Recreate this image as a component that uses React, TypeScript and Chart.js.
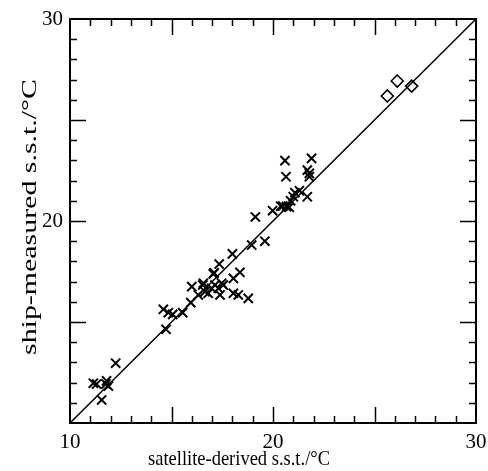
import React, { useEffect, useRef } from "react";
import { Chart, registerables } from "chart.js";

Chart.register(...registerables);

// Satellite-derived s.s.t. (x) vs ship-measured s.s.t. (y), crosses
const crossSat = [
  11.15, 11.31, 11.77, 11.89, 11.8, 11.56, 12.25,
  14.6, 14.84, 15.06, 15.55, 14.73, 15.95, 16.0, 16.32, 16.54, 16.65, 16.81, 16.98,
  17.14, 17.31, 17.39, 17.06, 17.55, 17.1, 17.35, 18.0, 18.05, 18.37, 18.05, 18.29,
  18.78, 18.95, 19.6, 16.57, 17.47,
  19.13, 19.98, 20.38, 20.48, 20.67, 20.8, 20.87, 21.0, 21.08, 21.3, 21.69,
  20.59, 20.64, 21.69, 21.79, 21.79, 21.9,
];
const crossShip = [
  11.97, 11.93, 11.93, 11.83, 12.09, 11.14, 12.96,
  15.63, 15.46, 15.38, 15.46, 14.64, 15.96, 16.75, 16.34, 16.83, 16.5, 16.42, 16.67,
  16.83, 16.67, 16.34, 17.38, 16.83, 17.43, 17.87, 18.37, 17.16, 17.46, 16.42, 16.34,
  16.17, 18.81, 19.0, 16.92, 16.92,
  20.2, 20.51, 20.73, 20.74, 20.71, 20.68, 21.0, 21.2, 21.4, 21.5, 21.2,
  22.99, 22.19, 22.52, 22.36, 22.19, 23.1,
];
// Diamonds
const diamondSat = [25.63, 26.12, 26.83];
const diamondShip = [26.19, 26.93, 26.68];
// 1:1 line
const lineVals = [10, 30];
// Axis
const axisMin = 10;
const axisMax = 30;
const labelStep = 10;
const xTitle = "satellite-derived s.s.t./°C";
const yTitle = "ship-measured s.s.t./°C";

const SERIF = '"Liberation Serif", "Times New Roman", serif';

const framePlugin = {
  id: "frameTicks",
  afterDraw(chart: any) {
    const { ctx, chartArea } = chart;
    const xs = chart.scales.x;
    const ys = chart.scales.y;
    const { left, right, top, bottom } = chartArea;
    ctx.save();
    ctx.strokeStyle = "#000";
    ctx.lineWidth = 2;
    ctx.strokeRect(left, top, right - left, bottom - top);
    ctx.lineWidth = 1.5;
    ctx.beginPath();
    for (let v = axisMin + 1; v < axisMax; v++) {
      const len = v % 5 === 0 ? 16 : 7;
      const px = Math.round(xs.getPixelForValue(v)) + 0.5;
      ctx.moveTo(px, bottom);
      ctx.lineTo(px, bottom - len);
      ctx.moveTo(px, top);
      ctx.lineTo(px, top + len);
      const py = Math.round(ys.getPixelForValue(v)) + 0.5;
      ctx.moveTo(left, py);
      ctx.lineTo(left + len, py);
      ctx.moveTo(right, py);
      ctx.lineTo(right - len, py);
    }
    ctx.stroke();

    // Axis titles
    ctx.fillStyle = "#000";
    ctx.font = `22px ${SERIF}`;
    ctx.textAlign = "center";
    ctx.textBaseline = "alphabetic";
    const xw = ctx.measureText(xTitle).width;
    ctx.save();
    ctx.translate(239, 465);
    ctx.scale(182 / xw, 1);
    ctx.fillText(xTitle, 0, 0);
    ctx.restore();

    ctx.translate(36, (top + bottom) / 2 - 4);
    ctx.rotate(-Math.PI / 2);
    ctx.font = `21px ${SERIF}`;
    const w = ctx.measureText(yTitle).width;
    ctx.scale(276 / w, 1);
    ctx.fillText(yTitle, 0, 0);
    ctx.restore();
  },
};

export default function App() {
  const ref = useRef<HTMLCanvasElement>(null);
  useEffect(() => {
    document.body.style.margin = "0";
    const crosses = crossSat.map((x, i) => ({ x, y: crossShip[i] }));
    const diamonds = diamondSat.map((x, i) => ({ x, y: diamondShip[i] }));
    const line = lineVals.map((v) => ({ x: v, y: v }));
    const chart = new Chart(ref.current!, {
      type: "scatter",
      data: {
        datasets: [
          {
            type: "line",
            data: line,
            borderColor: "#000",
            borderWidth: 1.5,
            pointRadius: 0,
            fill: false,
          } as any,
          {
            data: crosses,
            pointStyle: "crossRot",
            pointRadius: 6.5,
            borderColor: "#000",
            borderWidth: 2,
          },
          {
            data: diamonds,
            pointStyle: "rectRot",
            pointRadius: 6,
            backgroundColor: "#fff",
            borderColor: "#000",
            borderWidth: 1.6,
          },
        ],
      },
      options: {
        animation: false,
        responsive: false,
        layout: { padding: { top: 19, right: 12, left: 0, bottom: 0 } },
        plugins: { legend: { display: false }, tooltip: { enabled: false } },
        scales: {
          x: {
            type: "linear",
            min: axisMin,
            max: axisMax,
            border: { display: false },
            grid: { display: false, drawTicks: false },
            ticks: {
              stepSize: labelStep,
              padding: 7,
              color: "#000",
              font: { family: SERIF, size: 21 },
              maxRotation: 0,
            },
            afterFit(scale: any) {
              scale.height = 48;
              scale.paddingRight = 0;
              scale.paddingLeft = 0;
            },
          },
          y: {
            type: "linear",
            min: axisMin,
            max: axisMax,
            border: { display: false },
            grid: { display: false, drawTicks: false },
            ticks: {
              stepSize: labelStep,
              padding: 7,
              color: "#000",
              font: { family: SERIF, size: 21 },
              callback: (v: any) => (v === axisMin ? "" : String(v)),
            },
            afterFit(scale: any) {
              scale.width = 70;
              scale.paddingTop = 0;
              scale.paddingBottom = 0;
            },
          },
        },
      },
      plugins: [framePlugin],
    });
    return () => chart.destroy();
  }, []);
  return (
    <div style={{ width: 488, height: 471, background: "#fff" }}>
      <canvas ref={ref} width={488} height={471} />
    </div>
  );
}
